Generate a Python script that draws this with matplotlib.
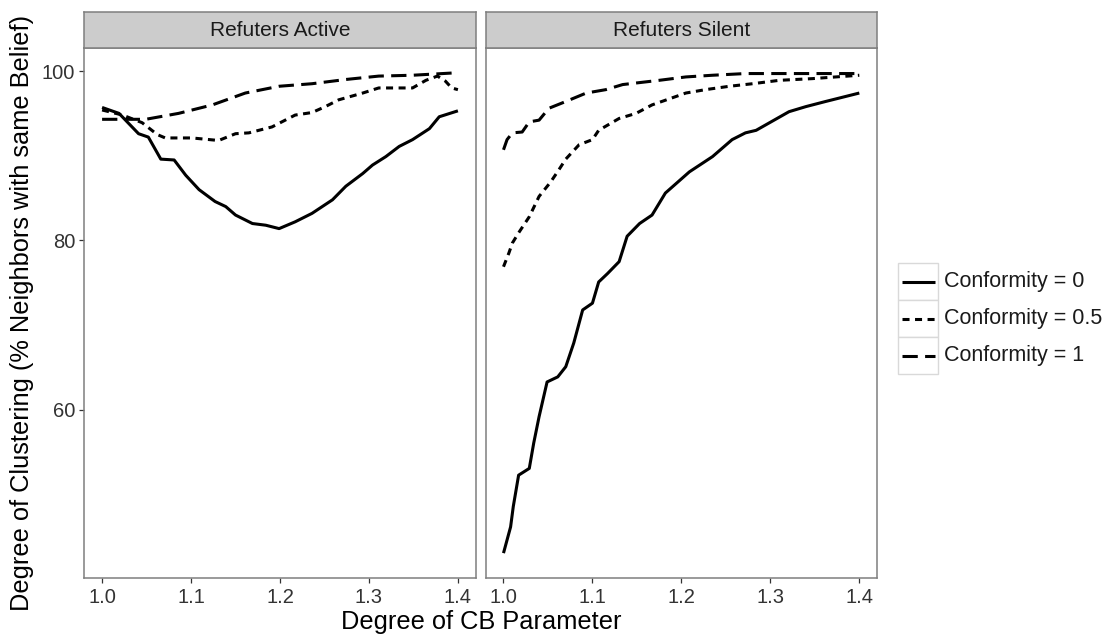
import matplotlib
matplotlib.use("Agg")
import matplotlib.pyplot as plt
from matplotlib.patches import Rectangle
from matplotlib.lines import Line2D

plt.rcParams['font.family'] = ['Liberation Sans', 'DejaVu Sans']

# ---- data -------------------------------------------------------------
panels = ["Refuters Active", "Refuters Silent"]
legend_labels = ["Conformity = 0", "Conformity = 0.5", "Conformity = 1"]
x_ticks = [1.0, 1.1, 1.2, 1.3, 1.4]
y_ticks = [60, 80, 100]

# Refuters Active
active_c0_x = [1.000, 1.019, 1.041, 1.052, 1.066, 1.081, 1.094, 1.109, 1.127, 1.139,
               1.150, 1.169, 1.184, 1.199, 1.217, 1.236, 1.259, 1.274, 1.293, 1.304,
               1.319, 1.334, 1.349, 1.368, 1.379, 1.400]
active_c0_y = [95.7, 95.0, 92.6, 92.2, 89.6, 89.5, 87.7, 86.0, 84.6, 84.0,
               83.0, 82.0, 81.8, 81.4, 82.2, 83.2, 84.8, 86.4, 87.9, 88.9,
               89.9, 91.1, 91.9, 93.2, 94.6, 95.3]

active_c05_x = [1.000, 1.023, 1.045, 1.062, 1.071, 1.101, 1.131, 1.150, 1.165, 1.191,
                1.217, 1.236, 1.251, 1.266, 1.293, 1.311, 1.349, 1.364, 1.377, 1.386,
                1.393, 1.400]
active_c05_y = [95.4, 94.8, 93.9, 92.5, 92.1, 92.1, 91.8, 92.6, 92.7, 93.4,
                94.8, 95.1, 95.8, 96.6, 97.4, 98.0, 98.0, 98.9, 99.4, 98.8,
                98.0, 97.8]

active_c1_x = [1.000, 1.049, 1.086, 1.124, 1.161, 1.199, 1.236, 1.274, 1.311, 1.349,
               1.400]
active_c1_y = [94.3, 94.3, 95.0, 96.0, 97.4, 98.2, 98.5, 99.0, 99.4, 99.5,
               99.8]

# Refuters Silent
silent_c0_x = [1.000, 1.008, 1.011, 1.017, 1.029, 1.034, 1.040, 1.049, 1.061, 1.070,
               1.079, 1.089, 1.100, 1.107, 1.117, 1.130, 1.139, 1.153, 1.167, 1.182,
               1.209, 1.235, 1.257, 1.272, 1.284, 1.321, 1.340, 1.362, 1.400]
silent_c0_y = [43.1, 46.2, 48.6, 52.3, 53.1, 56.1, 59.2, 63.3, 63.9, 65.1,
               67.9, 71.8, 72.6, 75.1, 76.1, 77.5, 80.5, 82.0, 83.0, 85.6,
               88.1, 89.9, 91.9, 92.7, 93.0, 95.2, 95.8, 96.4, 97.4]

silent_c05_x = [1.000, 1.006, 1.010, 1.017, 1.029, 1.040, 1.053, 1.062, 1.070, 1.085,
                1.100, 1.107, 1.130, 1.149, 1.167, 1.205, 1.227, 1.254, 1.280, 1.310,
                1.347, 1.400]
silent_c05_y = [76.9, 78.5, 79.7, 80.9, 82.8, 85.2, 86.9, 88.3, 89.6, 91.3,
                91.9, 93.0, 94.4, 95.0, 96.0, 97.4, 97.8, 98.2, 98.5, 98.9,
                99.1, 99.5]

silent_c1_x = [1.000, 1.004, 1.010, 1.021, 1.029, 1.040, 1.051, 1.070, 1.093, 1.115,
               1.134, 1.175, 1.205, 1.235, 1.272, 1.310, 1.347, 1.400]
silent_c1_y = [90.7, 91.9, 92.7, 92.8, 94.0, 94.2, 95.6, 96.4, 97.4, 97.8,
               98.4, 98.9, 99.3, 99.5, 99.7, 99.7, 99.7, 99.7]

series = {
    "Refuters Active": [(active_c0_x, active_c0_y), (active_c05_x, active_c05_y),
                        (active_c1_x, active_c1_y)],
    "Refuters Silent": [(silent_c0_x, silent_c0_y), (silent_c05_x, silent_c05_y),
                        (silent_c1_x, silent_c1_y)],
}

# ---- styling ------------------------------------------------------------
LW = 2.2
line_styles = ["-", (0, (2.3, 1.8)), (0, (5.0, 2.4))]
border_col = "#7F7F7F"
strip_fill = "#CCCCCC"
tick_col = "#333333"

W, H = 1106, 638
fig = plt.figure(figsize=(W / 100, H / 100), dpi=100)

def fx(px):
    return px / W

def fy(py):
    return 1 - py / H

panel_left = [84.3, 485.7]
panel_w = 391.4
panel_top, panel_bot = 48.3, 577.7
strip_top = 11.7

for i, name in enumerate(panels):
    ax = fig.add_axes([fx(panel_left[i]), fy(panel_bot), panel_w / W,
                       (panel_bot - panel_top) / H])
    for (xs, ys), ls in zip(series[name], line_styles):
        ax.plot(xs, ys, color="black", lw=LW, linestyle=ls,
                solid_capstyle="butt", dash_capstyle="butt")
    ax.set_xlim(0.98, 1.42)
    ax.set_ylim(40.2, 102.68)
    ax.set_xticks(x_ticks)
    ax.set_xticklabels([f"{t:.1f}" for t in x_ticks])
    ax.set_yticks(y_ticks)
    ax.tick_params(axis="both", direction="out", length=3.3, width=0.9,
                   color=tick_col, labelcolor=tick_col, labelsize=14.5)
    ax.tick_params(axis="x", pad=4.2)
    ax.tick_params(axis="y", pad=3.2)
    if i > 0:
        ax.tick_params(axis="y", left=False, labelleft=False)
    for sp in ax.spines.values():
        sp.set_color(border_col)
        sp.set_linewidth(1.1)
    ax.grid(False)

    # facet strip
    sax = fig.add_axes([fx(panel_left[i]), fy(panel_top), panel_w / W,
                        (panel_top - strip_top) / H])
    sax.set_facecolor(strip_fill)
    sax.set_xticks([])
    sax.set_yticks([])
    for sp in sax.spines.values():
        sp.set_color(border_col)
        sp.set_linewidth(1.1)
    sax.text(0.5, 0.5, name, ha="center", va="center", fontsize=15,
             color="#1A1A1A", transform=sax.transAxes)

# axis titles
fig.text(fx(22), fy(313), "Degree of Clustering (% Neighbors with same Belief)",
         rotation=90, ha="center", va="center", fontsize=18.3, color="black")
fig.text(fx(481), fy(622), "Degree of CB Parameter",
         ha="center", va="center", fontsize=18.3, color="black")

# legend keys
key_x0, key_x1 = 898.3, 938.3
key_tops = [263.0, 300.0, 337.0]
key_h = 37.0
lax = fig.add_axes([0, 0, 1, 1], facecolor="none")
lax.set_xlim(0, W)
lax.set_ylim(H, 0)
lax.axis("off")
for top, ls, lab in zip(key_tops, line_styles, legend_labels):
    lax.add_patch(Rectangle((key_x0, top), key_x1 - key_x0, key_h,
                            facecolor="white", edgecolor="#D9D9D9", lw=1.0))
    lax.add_line(Line2D([key_x0 + 3.5, key_x1 - 3.5], [top + key_h / 2] * 2,
                        color="black", lw=LW, linestyle=ls,
                        solid_capstyle="butt", dash_capstyle="butt"))
    lax.text(944, top + key_h / 2, lab, ha="left", va="center",
             fontsize=15.5, color="#1A1A1A")

fig.savefig("out.png", dpi=100)
